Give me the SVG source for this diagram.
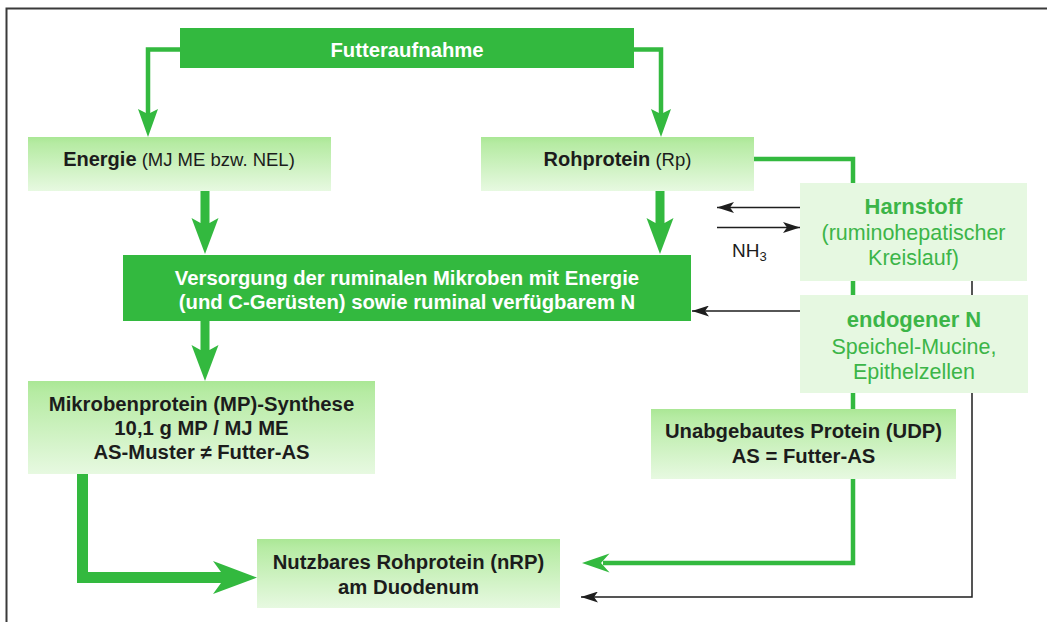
<svg xmlns="http://www.w3.org/2000/svg" width="1047" height="622" viewBox="0 0 1047 622">
  <defs>
    <linearGradient id="paleGrad" x1="0" y1="0" x2="0" y2="1">
      <stop offset="0" stop-color="#aae795"/>
      <stop offset="0.12" stop-color="#b6eba3"/>
      <stop offset="1" stop-color="#e7f9e1"/>
    </linearGradient>
    <marker id="thinHead" markerUnits="userSpaceOnUse" viewBox="0 0 17 11" refX="17" refY="5.5" markerWidth="17" markerHeight="11" orient="auto">
      <path d="M0,0 L17,5.5 L0,11 L4,5.5 Z" fill="#1e1e1e"/>
    </marker>
    <style>
      text { font-family: "Liberation Sans", Arial, sans-serif; text-anchor: middle; }
      .solid { fill: #33b93f; }
      .pale { fill: url(#paleGrad); }
      .soft { fill: #e6f8e1; }
      .white { fill: #ffffff; font-weight: bold; font-size: 20.3px; }
      .dark { fill: #1c1c1c; font-weight: bold; font-size: 20.3px; }
      .darkReg { fill: #1c1c1c; font-weight: normal; font-size: 18.5px; }
      .greenB { fill: #3cb548; font-weight: bold; font-size: 22px; }
      .greenR { fill: #3cb548; font-weight: normal; font-size: 21.5px; }
      .gline { fill: none; stroke: #33b93f; stroke-width: 4.5; }
      .garrow { fill: #33b93f; }
      .tline { fill: none; stroke: #1e1e1e; stroke-width: 1.5; marker-end: url(#thinHead); }
    </style>
  </defs>

  <rect width="1047" height="622" fill="#ffffff"/>

  <!-- outer frame -->
  <path d="M6.5,622 L6.5,8.5 L1047,8.5" fill="none" stroke="#3a3a3a" stroke-width="2"/>

  <!-- connectors -->
  <g id="connectors">
    <!-- Futteraufnahme to Energie / Rohprotein -->
    <polyline class="gline" points="182,49.5 148,49.5 148,114"/>
    <path class="garrow" d="M138,109 L148,114 L158,109 L148,137 Z"/>
    <polyline class="gline" points="632,49.5 661,49.5 661,114"/>
    <path class="garrow" d="M651,109 L661,114 L671,109 L661,137 Z"/>

    <!-- thick downward arrows -->
    <path class="garrow" d="M200.5,190 L209.5,190 L209.5,223 L218.5,218 L205,254 L191.5,218 L200.5,223 Z"/>
    <path class="garrow" d="M655.5,190 L664.5,190 L664.5,223 L673.5,218 L660,254 L646.5,218 L655.5,223 Z"/>
    <path class="garrow" d="M200.5,320 L209.5,320 L209.5,350 L218.5,345 L205,381 L191.5,345 L200.5,350 Z"/>

    <!-- Mikrobenprotein to nutzbares Rohprotein -->
    <path class="garrow" d="M77,472 L88,472 L88,572 L221,572 L213,561 L257,577.5 L213,594 L221,583 L77,583 Z"/>

    <!-- Rohprotein bypass (UDP) to nutzbares Rohprotein -->
    <polyline class="gline" points="754,159 853,159 853,563 603,563"/>
    <path class="garrow" d="M609.5,553.5 L601,563 L609.5,572.5 L582,563 Z"/>

    <!-- thin black flows -->
    <polyline class="tline" points="972,281 972,597 581,597"/>
    <line class="tline" x1="800" y1="207.5" x2="717" y2="207.5"/>
    <line class="tline" x1="717" y1="227.5" x2="800" y2="227.5"/>
    <line class="tline" x1="800" y1="311" x2="692" y2="311"/>
  </g>

  <!-- nodes -->
  <g id="futteraufnahme">
    <rect class="solid" x="180" y="28" width="454" height="40"/>
    <text class="white" x="407" y="57">Futteraufnahme</text>
  </g>

  <g id="energie">
    <rect class="pale" x="28" y="137" width="303" height="54"/>
    <text class="darkReg" x="179" y="166"><tspan font-weight="bold" font-size="20">Energie</tspan> (MJ ME bzw. NEL)</text>
  </g>

  <g id="rohprotein">
    <rect class="pale" x="481" y="137" width="273" height="54"/>
    <text class="darkReg" x="617.5" y="166"><tspan font-weight="bold" font-size="20">Rohprotein</tspan> (Rp)</text>
  </g>

  <g id="versorgung">
    <rect class="solid" x="123" y="255" width="568" height="66"/>
    <text class="white" x="407" y="285">Versorgung der ruminalen Mikroben mit Energie</text>
    <text class="white" x="407" y="309">(und C-Gerüsten) sowie ruminal verfügbarem N</text>
  </g>

  <g id="harnstoff">
    <rect class="soft" x="800" y="183" width="227" height="98"/>
    <text class="greenB" x="913.5" y="214">Harnstoff</text>
    <text class="greenR" x="913.5" y="240">(ruminohepatischer</text>
    <text class="greenR" x="913.5" y="265">Kreislauf)</text>
  </g>

  <g id="nh3-label">
    <text x="732" y="257" fill="#1c1c1c" font-size="19" style="text-anchor:start">NH<tspan font-size="13" dy="4">3</tspan></text>
  </g>

  <g id="endogener-n">
    <rect class="soft" x="800" y="295" width="228" height="98"/>
    <text class="greenB" x="914" y="327">endogener N</text>
    <text class="greenR" x="914" y="354">Speichel-Mucine,</text>
    <text class="greenR" x="914" y="379">Epithelzellen</text>
  </g>

  <g id="mikrobenprotein">
    <rect class="pale" x="28" y="381" width="347" height="93"/>
    <text class="dark" x="201.5" y="411">Mikrobenprotein (MP)-Synthese</text>
    <text class="dark" x="201.5" y="435">10,1 g MP / MJ ME</text>
    <text class="dark" x="201.5" y="459">AS-Muster ≠ Futter-AS</text>
  </g>

  <g id="udp">
    <rect class="pale" x="651" y="409" width="305" height="70"/>
    <text class="dark" x="803.5" y="438">Unabgebautes Protein (UDP)</text>
    <text class="dark" x="803.5" y="463">AS = Futter-AS</text>
  </g>

  <g id="nutzbares-rohprotein">
    <rect class="pale" x="257" y="539" width="303" height="69"/>
    <text class="dark" x="408.5" y="569">Nutzbares Rohprotein (nRP)</text>
    <text class="dark" x="408.5" y="594">am Duodenum</text>
  </g>
</svg>
